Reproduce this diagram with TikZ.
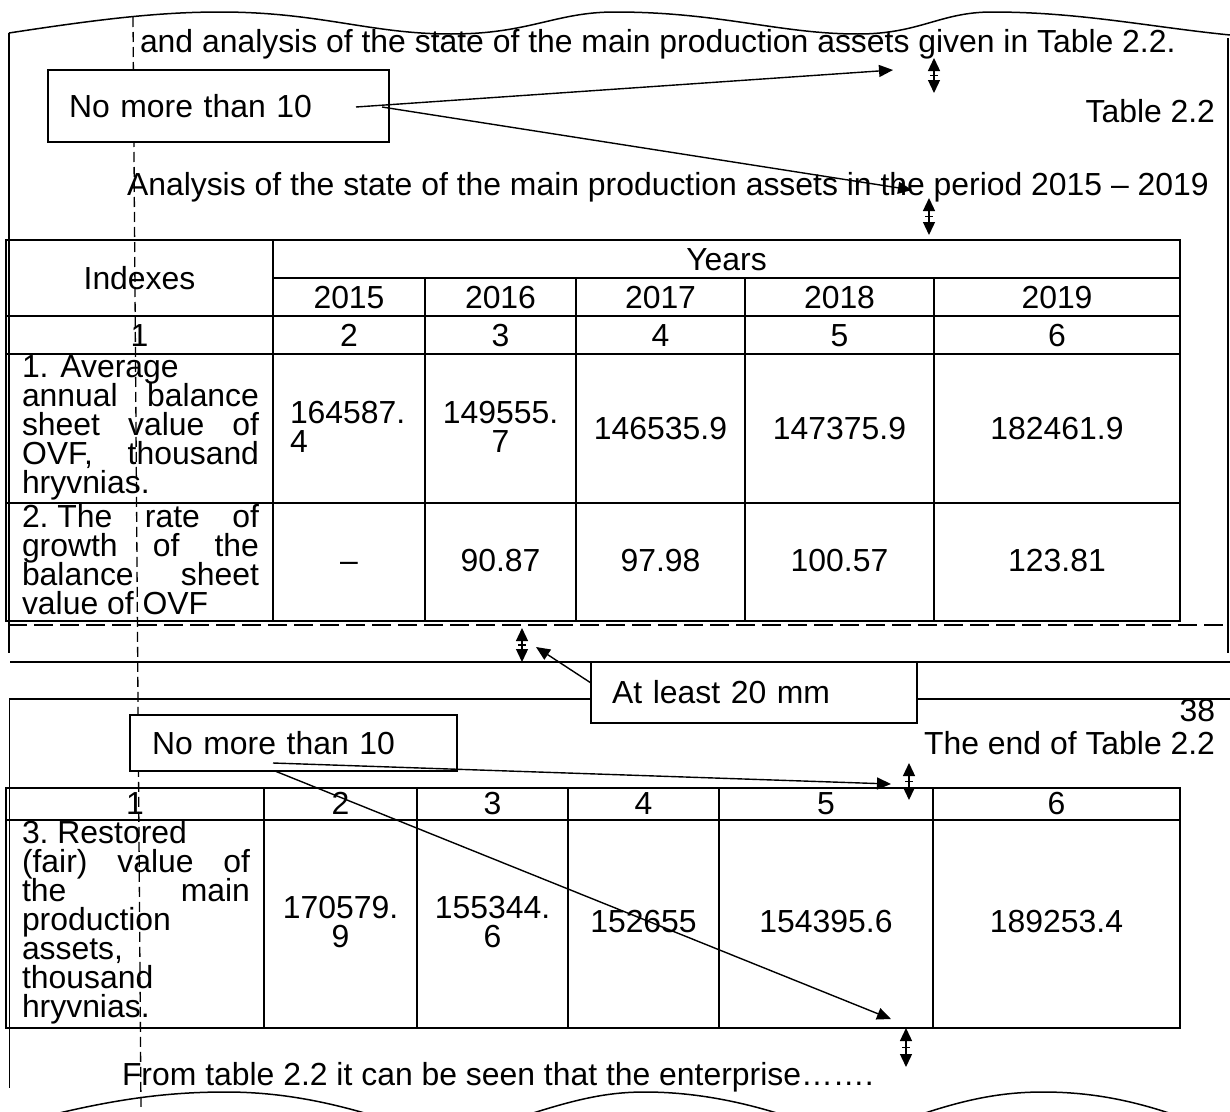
\documentclass[tikz,border=0pt]{standalone}
\usepackage{fontspec}
\setmainfont{Liberation Sans}
\usetikzlibrary{arrows.meta,calc}
\begin{document}
\begin{tikzpicture}[x=1pt,y=-1pt,
  every node/.style={inner sep=0pt, outer sep=0pt, font=\fontsize{31.9}{29}\selectfont},
  lt/.style={anchor=base west},
  rt/.style={anchor=base east},
  ct/.style={anchor=base},
  pageline/.style={line width=1.7pt},
  grid/.style={line width=2pt},
  guide/.style={line width=1.3pt, dash pattern=on 10pt off 5pt},
  cutline/.style={line width=1.7pt, dash pattern=on 19pt off 7pt},
  note/.style={draw, fill=white, line width=1.3pt, align=left, inner xsep=21pt, anchor=north west},
  pointer/.style={line width=1.4pt, -{Triangle[length=14pt,width=12pt]}},
  gap/.style={line width=1.3pt, {Triangle[length=13pt,width=12pt]}-{Triangle[length=13pt,width=12pt]}},
  torn/.style={line width=1.5pt}
]
\useasboundingbox (0,0) rectangle (1230,1111);

% ---------- page 1 frame ----------
\draw[torn] (9,33) .. controls (100,19) and (160,12) .. (220,12)
  .. controls (320,12) and (370,34) .. (451,34)
  .. controls (530,34) and (555,12) .. (615,12)
  .. controls (720,12) and (780,34) .. (858,34)
  .. controls (920,34) and (940,12) .. (992,12)
  .. controls (1080,12) and (1150,27) .. (1230,35);
\draw[pageline] (9,33) -- (9,653);
\draw[pageline] (1228,38) -- (1228,653);
\draw[cutline] (8,625) -- (1230,625);
\draw[pageline] (10,662) -- (1230,662);
\draw[pageline] (9,699) -- (1230,699);
\draw[pageline] (9.5,699) -- (9.5,1088);

% ---------- text before the table ----------
\node[lt] (intro) at (140,52) {and analysis of the state of the main production assets given in Table 2.2.};
\node[rt] (tabno) at (1215,122) {Table 2.2};
\node[lt] (title) at (127,195) {Analysis of the state of the main production assets in the period 2015 – 2019};

% ---------- table 2.2, first part ----------
\draw[grid] (6,240) rectangle (1180,621);
\draw[grid] (273,278) -- (1180,278);
\draw[grid] (6,316) -- (1180,316);
\draw[grid] (6,354) -- (1180,354);
\draw[grid] (6,503) -- (1180,503);
\draw[grid] (273,240) -- (273,621);
\foreach \cx in {425,576,745,934} \draw[grid] (\cx,278) -- (\cx,621);

\node[ct] (hidx) at (139.5,289) {Indexes};
\node[ct] (hyrs) at (726.5,270) {Years};
\node[ct] (y15) at (349,308) {2015};
\node[ct] (y16) at (500.5,308) {2016};
\node[ct] (y17) at (660.5,308) {2017};
\node[ct] (y18) at (839.5,308) {2018};
\node[ct] (y19) at (1057,308) {2019};
\node[ct] (n1) at (139.5,346) {1};
\node[ct] (n2) at (349,346) {2};
\node[ct] (n3) at (500.5,346) {3};
\node[ct] (n4) at (660.5,346) {4};
\node[ct] (n5) at (839.5,346) {5};
\node[ct] (n6) at (1057,346) {6};

\node[lt] (ra1) at (22,377) {1. Average};
\node[lt] (ra2) at (22,406) {\hbox to 237pt{annual\hfill balance}};
\node[lt] (ra3) at (22,435) {\hbox to 237pt{sheet\hfill value\hfill of}};
\node[lt] (ra4) at (22,464) {\hbox to 237pt{OVF,\hfill thousand}};
\node[lt] (ra5) at (22,493) {hryvnias.};
\node[lt] (va2a) at (290,423) {164587.};
\node[lt] (va2b) at (290,452) {4};
\node[ct] (va3a) at (500.5,423) {149555.};
\node[ct] (va3b) at (500.5,452) {7};
\node[ct] (va4) at (660.5,439) {146535.9};
\node[ct] (va5) at (839.5,439) {147375.9};
\node[ct] (va6) at (1057,439) {182461.9};

\node[lt] (rb1) at (22,527) {\hbox to 237pt{2.~The\hfill rate\hfill of}};
\node[lt] (rb2) at (22,556) {\hbox to 237pt{growth\hfill of\hfill the}};
\node[lt] (rb3) at (22,585) {\hbox to 237pt{balance\hfill sheet}};
\node[lt] (rb4) at (22,614) {value of OVF};
\node[ct] (vb2) at (349,571) {–};
\node[ct] (vb3) at (500.5,571) {90.87};
\node[ct] (vb4) at (660.5,571) {97.98};
\node[ct] (vb5) at (839.5,571) {100.57};
\node[ct] (vb6) at (1057,571) {123.81};

% ---------- page 2 header ----------
\node[rt] (pgno) at (1215,721) {38};
\node[rt] (tabend) at (1215,754) {The end of Table 2.2};

% ---------- table 2.2, end ----------
\draw[grid] (6,788) rectangle (1180,1028);
\draw[grid] (6,820) -- (1180,820);
\foreach \cx in {264,417,568,719,933} \draw[grid] (\cx,788) -- (\cx,1028);

\node[ct] (m1) at (135,814) {1};
\node[ct] (m2) at (340.5,814) {2};
\node[ct] (m3) at (492.5,814) {3};
\node[ct] (m4) at (643.5,814) {4};
\node[ct] (m5) at (826,814) {5};
\node[ct] (m6) at (1056.5,814) {6};

\node[lt] (rc1) at (22,843) {3.~Restored};
\node[lt] (rc2) at (22,872) {\hbox to 228pt{(fair)\hfill value\hfill of}};
\node[lt] (rc3) at (22,901) {\hbox to 228pt{the\hfill main}};
\node[lt] (rc4) at (22,930) {production};
\node[lt] (rc5) at (22,959) {assets,};
\node[lt] (rc6) at (22,988) {thousand};
\node[lt] (rc7) at (22,1017) {hryvnias.};
\node[ct] (vc2a) at (340.5,918) {170579.};
\node[ct] (vc2b) at (340.5,947) {9};
\node[ct] (vc3a) at (492.5,918) {155344.};
\node[ct] (vc3b) at (492.5,947) {6};
\node[ct] (vc4) at (643.5,932) {152655};
\node[ct] (vc5) at (826,932) {154395.6};
\node[ct] (vc6) at (1056.5,932) {189253.4};

\node[lt] (outro) at (122,1085) {From table 2.2 it can be seen that the enterprise…….};

% ---------- torn lower edge ----------
\draw[torn] (55,1114) .. controls (130,1096) and (180,1092) .. (226,1092)
  .. controls (275,1092) and (320,1100) .. (368,1114);
\draw[torn] (530,1114) .. controls (580,1098) and (610,1092) .. (645,1092)
  .. controls (690,1092) and (735,1100) .. (780,1114);
\draw[torn] (922,1114) .. controls (970,1098) and (1005,1092) .. (1043,1092)
  .. controls (1090,1092) and (1130,1100) .. (1172,1114);

% ---------- indent guide ----------
\draw[guide] (133,17) -- (141,1111);

% ---------- callouts ----------
\node[note, text width=299pt, minimum height=72pt] (nb1) at (48,70) {No more than 10};
\node[note, text width=284pt, minimum height=61pt] (nb3) at (591,662) {At least 20 mm};
\node[note, text width=283pt, minimum height=56pt, inner xsep=22pt] (nb2) at (130,715) {No more than 10};

\coordinate (s1) at (356,107);
\coordinate (s1b) at (382,107);
\coordinate (t1a) at (893,70);
\coordinate (t1b) at (912,190);
\draw[pointer] (s1) -- (t1a);
\draw[pointer] (s1b) -- (t1b);

\coordinate (s3) at (591,683);
\coordinate (t3) at (536,647);
\draw[pointer] (s3) -- (t3);

\coordinate (s2) at (273,763);
\coordinate (s2b) at (275,771);
\coordinate (t2a) at (891,784);
\coordinate (t2b) at (891,1019);
\draw[pointer] (s2) -- (t2a);
\draw[pointer] (s2b) -- (t2b);

% ---------- spacing marks (double arrow with a small joint tick) ----------
\coordinate (g1a) at (934,58);  \coordinate (g1b) at (934,93);
\coordinate (g2a) at (929,198); \coordinate (g2b) at (929,235);
\coordinate (g3a) at (522,628); \coordinate (g3b) at (522,662);
\coordinate (g4a) at (909,763); \coordinate (g4b) at (909,800);
\coordinate (g5a) at (906,1028); \coordinate (g5b) at (906,1067);
\foreach \a/\b in {g1a/g1b,g2a/g2b,g3a/g3b,g4a/g4b,g5a/g5b}{
  \draw[gap] (\a) -- (\b);
  \draw[line width=1.1pt] ($(\a)!0.5!(\b)+(-4,0)$) -- ($(\a)!0.5!(\b)+(4,0)$);
}
\end{tikzpicture}
\end{document}
